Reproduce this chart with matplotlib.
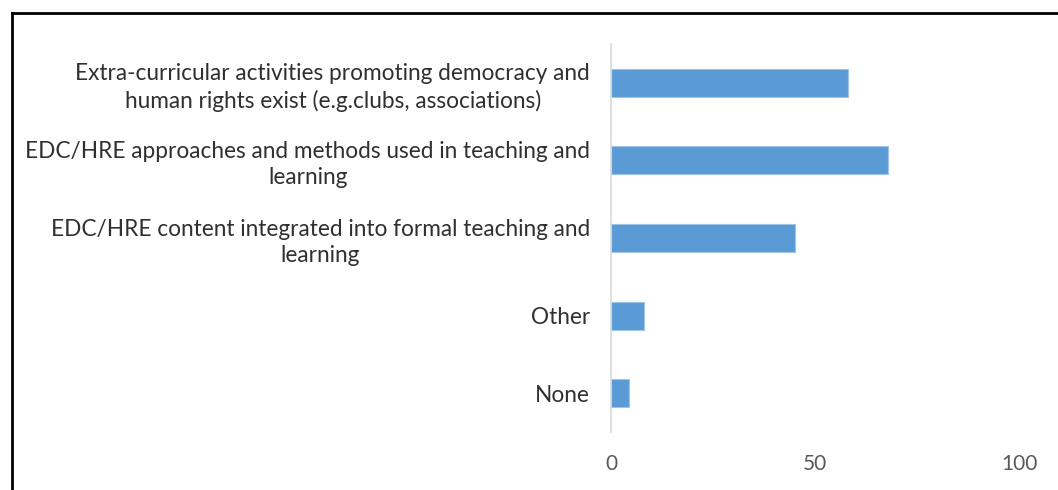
import matplotlib.pyplot as plt
from matplotlib.lines import Line2D

plt.rcParams['font.family'] = ['Lato', 'DejaVu Sans']

categories = [
    "Extra-curricular activities promoting democracy and\nhuman rights exist (e.g.clubs, associations)",
    "EDC/HRE approaches and methods used in teaching and\nlearning",
    "EDC/HRE content integrated into formal teaching and\nlearning",
    "Other",
    "None",
]
values = [58, 68, 45, 8, 4.3]
xticks = [0, 50, 100]

fig = plt.figure(figsize=(10.58, 4.9), dpi=100)
ax = fig.add_axes([0.5775, 0.1184, 0.3856, 0.7918])

ypos = list(range(len(categories)))
ax.barh(ypos, values, height=0.36, color='#5b9bd5', edgecolor='#9dc3e6', linewidth=0.8)
ax.set_ylim(len(categories) - 0.5, -0.5)
ax.set_xlim(0, 100)
ax.set_xticks(xticks)
ax.set_yticks(ypos)
ax.set_yticklabels(categories, fontsize=16.3, color='#303030')
for lbl in ax.get_yticklabels():
    lbl.set_multialignment('center')
    lbl.set_linespacing(1.3)
ax.tick_params(axis='x', labelsize=15, labelcolor='#595959', length=0, pad=16)
ax.tick_params(axis='y', length=0, pad=15)

for s in ['top', 'right', 'bottom']:
    ax.spines[s].set_visible(False)
ax.spines['left'].set_color('#d9d9d9')
ax.spines['left'].set_linewidth(1.2)

# outer frame (left and top edges)
W, H = 1058, 490
fig.add_artist(Line2D([12 / W, 12 / W], [0, 1 - 13 / H], color='black', lw=2, transform=fig.transFigure))
fig.add_artist(Line2D([12 / W, 1], [1 - 13 / H, 1 - 13 / H], color='black', lw=2, transform=fig.transFigure))

fig.savefig('out.png', dpi=100)
